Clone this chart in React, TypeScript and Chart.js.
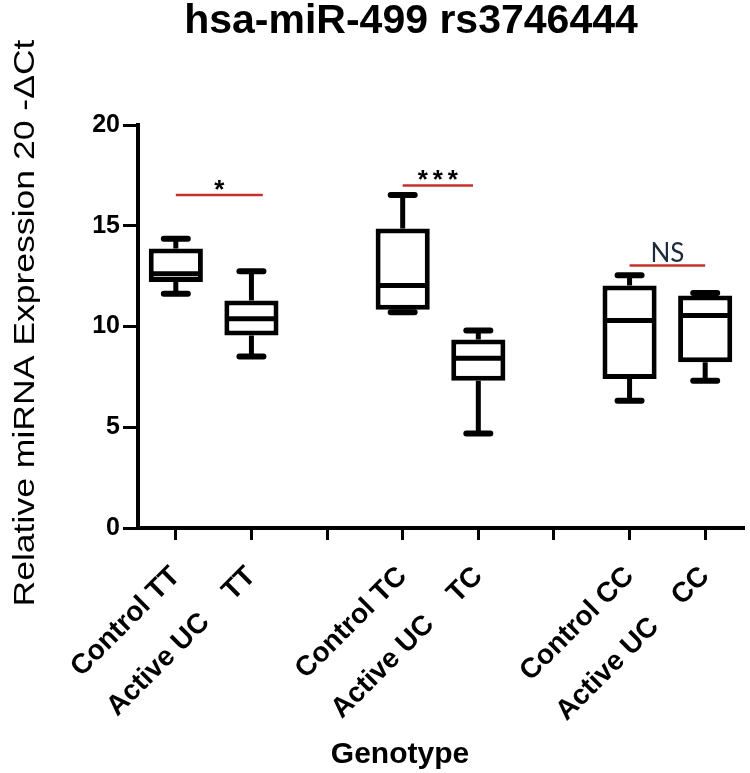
import React, { useEffect, useRef } from 'react';
import { Chart, registerables } from 'chart.js';

Chart.register(...registerables);

// ---- data ----
const categories = ['Control TT', 'Active UC    TT', '', 'Control TC', 'Active UC    TC', '', 'Control CC', 'Active UC    CC'];
const mins = [11.63, 8.51, null, 10.71, 4.69, null, 6.32, 7.31];
const q1s = [12.21, 9.55, null, 10.83, 7.31, null, 7.4, 8.22];
const medians = [12.62, 10.38, null, 12.04, 8.43, null, 10.3, 10.55];
const q3s = [13.87, 11.29, null, 14.86, 9.35, null, 12.04, 11.54];
const maxs = [14.36, 12.74, null, 16.52, 9.8, null, 12.54, 11.66];
const yMin = 0;
const yMax = 20;
const yStep = 5;
const sigFrom = [0, 3, 6];
const sigTo = [1.15, 3.93, 7];
const sigLevel = [16.52, 17.0, 13.03];
const sigLabel = ['*', '***', 'NS'];
const chartTitle = 'hsa-miR-499 rs3746444';
const yTitle = 'Relative miRNA Expression 20 -\u0394Ct';
const xTitle = 'Genotype';

const SANS = '"Liberation Sans", Arial, sans-serif';

const overlay = {
  id: 'overlay',
  afterDatasetsDraw(chart: any) {
    const { ctx, scales } = chart;
    const x = scales.x;
    const y = scales.y;
    const meta = chart.getDatasetMeta(0);
    ctx.save();
    ctx.strokeStyle = '#000';
    for (let i = 0; i < categories.length; i++) {
      if (medians[i] == null) continue;
      const bar = meta.data[i] as any;
      const cx = x.getPixelForValue(i);
      const half = bar.width / 2;
      // median
      ctx.lineWidth = 5;
      ctx.lineCap = 'butt';
      ctx.beginPath();
      const ym = y.getPixelForValue(medians[i] as number);
      ctx.moveTo(cx - half + 2, ym);
      ctx.lineTo(cx + half - 2, ym);
      ctx.stroke();
      // whiskers
      const yq1 = y.getPixelForValue(q1s[i] as number);
      const yq3 = y.getPixelForValue(q3s[i] as number);
      const ymin = y.getPixelForValue(mins[i] as number);
      const ymax = y.getPixelForValue(maxs[i] as number);
      ctx.beginPath();
      ctx.moveTo(cx, yq3);
      ctx.lineTo(cx, ymax);
      ctx.moveTo(cx, yq1);
      ctx.lineTo(cx, ymin);
      ctx.stroke();
      // caps
      ctx.lineWidth = 6;
      ctx.lineCap = 'round';
      const cw = 12;
      ctx.beginPath();
      ctx.moveTo(cx - cw, ymax);
      ctx.lineTo(cx + cw, ymax);
      ctx.moveTo(cx - cw, ymin);
      ctx.lineTo(cx + cw, ymin);
      ctx.stroke();
    }
    // significance
    ctx.lineCap = 'butt';
    for (let k = 0; k < sigLevel.length; k++) {
      const x1 = x.getPixelForValue(sigFrom[k]);
      const x2 = x.getPixelForValue(sigTo[k]);
      const yy = y.getPixelForValue(sigLevel[k]);
      ctx.strokeStyle = '#c4302b';
      ctx.lineWidth = 2.5;
      ctx.beginPath();
      ctx.moveTo(x1, yy);
      ctx.lineTo(x2, yy);
      ctx.stroke();
      ctx.fillStyle = '#000';
      ctx.textAlign = 'center';
      ctx.textBaseline = 'alphabetic';
      const mid = (x1 + x2) / 2;
      if (sigLabel[k] === 'NS') {
        ctx.font = '26px Lato, "Open Sans", sans-serif';
        ctx.fillStyle = '#1a2a3a';
        ctx.fillText(sigLabel[k], mid, yy - 3);
      } else {
        ctx.font = 'bold 26px "Liberation Sans", Arial, sans-serif';
        const n = sigLabel[k].length;
        const gap = 15;
        for (let s = 0; s < n; s++) {
          ctx.fillText('*', mid + (s - (n - 1) / 2) * gap, yy + 3);
        }
      }
    }
    ctx.restore();
  },
  afterDraw(chart: any) {
    const { ctx, chartArea } = chart;
    ctx.save();
    ctx.fillStyle = '#000';
    // main title
    ctx.font = 'bold 41px ' + SANS;
    ctx.textAlign = 'center';
    ctx.textBaseline = 'alphabetic';
    ctx.fillText(chartTitle, chartArea.left + 273, 33);
    // x title
    ctx.font = 'bold 30px ' + SANS;
    ctx.fillText(xTitle, chartArea.left + 262, 763);
    // y title (rotated, stretched)
    ctx.font = '29px ' + SANS;
    const w = ctx.measureText(yTitle).width;
    const target = 567;
    ctx.translate(34, 323);
    ctx.rotate(-Math.PI / 2);
    ctx.scale(target / w, 1);
    ctx.fillText(yTitle, 0, 0);
    ctx.restore();
  },
};

export default function App() {
  const ref = useRef<HTMLCanvasElement | null>(null);
  useEffect(() => {
    if (!ref.current) return;
    Chart.defaults.font.family = SANS;
    const boxData = categories.map((_, i) => (q1s[i] == null ? null : [q1s[i], q3s[i]]));
    const chart = new Chart(ref.current, {
      type: 'bar',
      data: {
        labels: categories,
        datasets: [
          {
            data: boxData as any,
            backgroundColor: '#ffffff',
            borderColor: '#000000',
            borderWidth: 5,
            borderSkipped: false,
            barPercentage: 0.716,
            categoryPercentage: 1,
          },
        ],
      },
      options: {
        responsive: false,
        maintainAspectRatio: false,
        animation: false,
        layout: { padding: { top: 125, right: 7, left: 0, bottom: 0 } },
        plugins: {
          legend: { display: false },
          tooltip: { enabled: false },
          title: { display: false },
        },
        scales: {
          x: {
            type: 'category',
            offset: true,
            grid: {
              display: true,
              drawOnChartArea: false,
              drawTicks: true,
              offset: false,
              tickLength: 12,
              tickWidth: 3,
              lineWidth: 3,
              color: '#000',
            },
            border: { display: true, width: 4, color: '#000' },
            ticks: {
              autoSkip: false,
              maxRotation: 45,
              minRotation: 45,
              color: '#000',
              padding: 20,
              font: { size: 28, weight: 'bold', family: SANS },
            },
            afterFit: (scale: any) => {
              scale.height = 245;
            },
          },
          y: {
            min: yMin,
            max: yMax,
            grid: {
              display: true,
              drawOnChartArea: false,
              drawTicks: true,
              tickLength: 15,
              tickWidth: 3,
              lineWidth: 3,
              color: '#000',
            },
            border: { display: true, width: 4, color: '#000' },
            ticks: {
              stepSize: yStep,
              color: '#000',
              padding: 3,
              font: { size: 25, weight: 'bold', family: SANS },
            },
            afterFit: (scale: any) => {
              scale.width = 138;
            },
          },
        },
      },
      plugins: [overlay],
    });
    return () => chart.destroy();
  }, []);
  return (
    <div style={{ position: 'absolute', left: 0, top: 0, width: 750, height: 773, background: '#fff' }}>
      <canvas ref={ref} width={750} height={773} style={{ width: 750, height: 773, display: 'block' }} />
    </div>
  );
}
